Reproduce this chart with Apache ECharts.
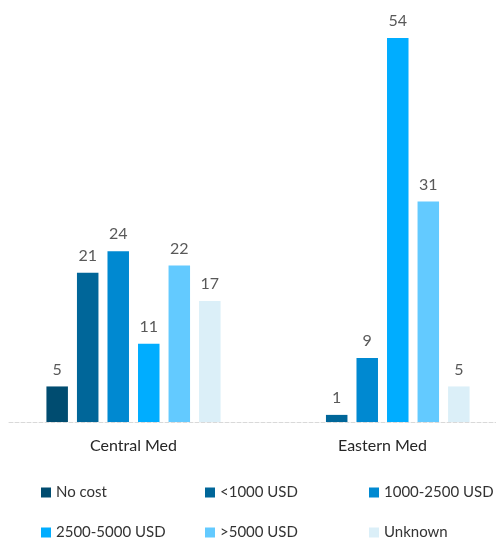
<!DOCTYPE html>
<html>
<head>
<meta charset="utf-8">
<script src="https://cdn.jsdelivr.net/npm/echarts@6/dist/echarts.min.js"></script>
<style>
  html, body { margin: 0; padding: 0; background: #fff; }
  #chart { width: 496px; height: 540px; }
</style>
</head>
<body>
<div id="chart"></div>
<script>
// Routes and cost brackets
const categories = ['Central Med', 'Eastern Med'];
const seriesNames = ['No cost', '<1000 USD', '1000-2500 USD', '2500-5000 USD', '>5000 USD', 'Unknown'];

// Counts per cost bracket, one array per bracket (Central Med, Eastern Med)
const noCost = [5, null];
const under1000 = [21, 1];
const from1000to2500 = [24, 9];
const from2500to5000 = [11, 54];
const over5000 = [22, 31];
const unknown = [17, 5];

const seriesValues = [noCost, under1000, from1000to2500, from2500to5000, over5000, unknown];
const palette = ['#004c70', '#006699', '#0089d1', '#00adff', '#63caff', '#dbeff8'];

const FONT = 'Lato, "Open Sans", sans-serif';
const chart = echarts.init(document.getElementById('chart'));

// One legend block per item so the entries sit in a fixed 3-column grid
const legendPos = [
  [41, 485], [205, 485], [369, 485],
  [41, 525], [205, 525], [369, 525]
];
const legends = seriesNames.map((name, i) => ({
  data: [name],
  left: legendPos[i][0],
  top: legendPos[i][1],
  padding: 0,
  itemWidth: 10,
  itemHeight: 10,
  itemGap: 5,
  icon: 'rect',
  selectedMode: false,
  textStyle: { color: '#333333', fontSize: 15, fontFamily: FONT }
}));

chart.setOption({
  animation: false,
  color: palette,
  // the plot area runs slightly past the right edge of the canvas
  grid: { left: 9, top: 38, width: 498, height: 384, containLabel: false, outerBoundsMode: 'none' },
  legend: legends,
  xAxis: {
    type: 'category',
    data: categories,
    axisTick: { show: false },
    axisLine: { lineStyle: { color: '#d9d9d9', type: 'dashed', width: 1 } },
    axisLabel: { color: '#262626', fontSize: 16, fontFamily: FONT, margin: 16 }
  },
  yAxis: {
    type: 'value',
    min: 0,
    max: 54,
    show: false,
    splitLine: { show: false }
  },
  series: seriesNames.map((name, i) => ({
    name: name,
    type: 'bar',
    data: seriesValues[i],
    barWidth: 21.5,
    barGap: '42%',
    label: {
      show: true,
      position: 'top',
      distance: 9,
      color: '#595959',
      fontSize: 16,
      fontFamily: FONT
    }
  }))
});
</script>
</body>
</html>
